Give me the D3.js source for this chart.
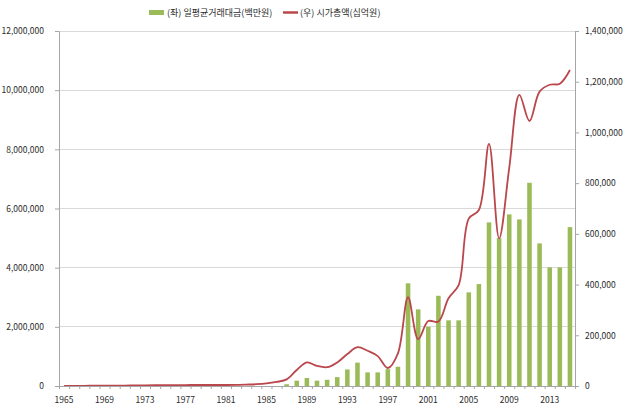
<!DOCTYPE html>
<html><head><meta charset="utf-8">
<script src="https://cdn.jsdelivr.net/npm/d3@7"></script>
<style>
html,body{margin:0;padding:0;background:#fff;}
svg text{font-family:"Noto Sans CJK KR","Noto Sans",sans-serif;fill:#2b2b2b;}
</style></head>
<body><svg id="c" width="630" height="408"></svg>
<script>
const years = d3.range(1965, 2016);
const labelYears = [1965,1969,1973,1977,1981,1985,1989,1993,1997,2001,2005,2009,2013];
// 일평균거래대금 (백만원), left axis
const tradeValue = [
  0,0,0,0,0,0,0,0,0,0,   // 1965-1974
  0,0,0,0,0,0,0,0,0,0,   // 1975-1984
  0,0,60000,180000,270000,180000,210000,300000,560000,790000, // 1985-1994
  460000,460000,570000,650000,3470000,2590000,2000000,3050000,2220000,2220000, // 1995-2004
  3165000,3445000,5530000,5000000,5800000,5630000,6870000,4820000,4010000,4010000, // 2005-2014
  5370000 // 2015
];
// 시가총액 (십억원), right axis
const marketCap = [
  500,600,800,1000,1200,1500,1700,2200,2800,3000,        // 1965-1974
  3300,3600,3800,4000,4000,4000,4000,4300,5500,7000,     // 1975-1984
  10000,16000,26000,63000,93000,79000,74000,93000,126000,153000, // 1985-1994
  139000,118000,71000,129000,350000,185000,256000,254000,346000,398000, // 1995-2004
  660000,694000,955000,582000,860000,1148000,1045000,1161000,1188000,1192000, // 2005-2014
  1246000 // 2015
];
const leftTicks = [0,2000000,4000000,6000000,8000000,10000000,12000000];
const rightTicks = [0,200000,400000,600000,800000,1000000,1200000,1400000];
const legendLabels = ["(좌) 일평균거래대금(백만원)", "(우) 시가총액(십억원)"];

const L = 59, R = 575, T = 31, B = 386;
const svg = d3.select("#c");
svg.append("rect").attr("width",630).attr("height",408).attr("fill","#fff");

const x = d3.scaleBand().domain(years).range([L, R]).padding(0);
const xi = d3.scaleLinear().domain([0, years.length]).range([L, R]);
const yL = d3.scaleLinear().domain([0, 12000000]).range([B, T]);
const yR = d3.scaleLinear().domain([0, 1400000]).range([B, T]);

// gridlines
svg.append("g").selectAll("line").data(leftTicks.slice(1)).join("line")
  .attr("x1", L).attr("x2", R).attr("y1", d => yL(d)).attr("y2", d => yL(d))
  .attr("stroke", "#d9d9d9").attr("stroke-width", 1).attr("shape-rendering","crispEdges");

// bars
const bw = x.bandwidth() * 0.45;
svg.append("g").selectAll("rect").data(years.map((y,i)=>({y, v: tradeValue[i]})).filter(d=>d.v>0)).join("rect")
  .attr("x", d => x(d.y) + (x.bandwidth()-bw)/2)
  .attr("width", bw)
  .attr("y", d => yL(d.v))
  .attr("height", d => B - yL(d.v))
  .attr("fill", "#9bbb59");

// line
const line = d3.line()
  .x((d,i) => x(years[i]) + x.bandwidth()/2)
  .y(d => yR(d))
  .curve(d3.curveCatmullRom.alpha(0.5));
svg.append("path").datum(marketCap).attr("d", line)
  .attr("fill","none").attr("stroke","#b9474b").attr("stroke-width",1.8);

// axes
const axisStyle = g => {
  g.select(".domain").attr("stroke","#a6a6a6");
  g.selectAll(".tick line").attr("stroke","#a6a6a6");
  g.selectAll("text").attr("font-size","8.5px").attr("fill","#2b2b2b")
    .style("font-family",'"Noto Sans CJK KR","Noto Sans",sans-serif');
};
svg.append("g").attr("transform",`translate(${L},0)`)
  .call(d3.axisLeft(yL).tickValues(leftTicks).tickSize(4).tickSizeOuter(0).tickFormat(d3.format(",")).tickPadding(11))
  .call(axisStyle);
svg.append("g").attr("transform",`translate(${R},0)`)
  .call(d3.axisRight(yR).tickValues(rightTicks).tickSize(4).tickSizeOuter(0).tickFormat(d3.format(",")).tickPadding(6))
  .call(axisStyle);
// bottom tick marks at band boundaries
svg.append("g").attr("transform",`translate(0,${B})`)
  .call(d3.axisBottom(xi).tickValues(d3.range(0, years.length+1)).tickSize(3).tickSizeOuter(0).tickFormat(""))
  .call(axisStyle);
// bottom labels
svg.append("g").attr("transform",`translate(0,${B})`)
  .call(d3.axisBottom(x).tickValues(labelYears).tickSize(0).tickPadding(11))
  .call(g => g.select(".domain").remove())
  .call(axisStyle);

// legend
const lg = svg.append("g");
lg.append("rect").attr("x",149).attr("y",10).attr("width",15).attr("height",5).attr("fill","#9bbb59");
lg.append("text").attr("x",167).attr("y",16).attr("font-size","9px").text(legendLabels[0]);
lg.append("line").attr("x1",283).attr("x2",298).attr("y1",12.5).attr("y2",12.5).attr("stroke","#b9474b").attr("stroke-width",2.5);
lg.append("text").attr("x",300).attr("y",16).attr("font-size","9px").text(legendLabels[1]);
</script></body></html>
